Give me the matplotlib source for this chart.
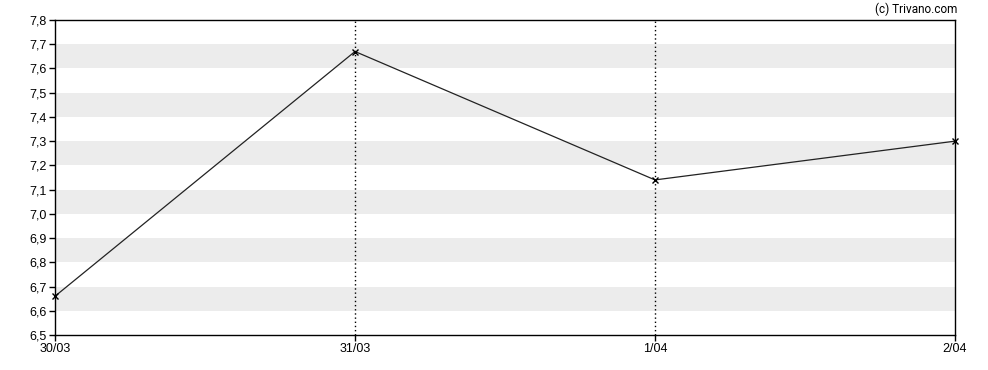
import matplotlib
matplotlib.use('Agg')
import matplotlib.pyplot as plt
import numpy as np

# data
dates = ['30/03', '31/03', '1/04', '2/04']
prices = [6.66, 7.67, 7.14, 7.30]
yticks = np.round(np.arange(6.5, 7.81, 0.1), 1)

plt.rcParams['font.family'] = ['Liberation Sans', 'DejaVu Sans']

fig = plt.figure(figsize=(9.88, 3.70), dpi=100)
ax = fig.add_axes([55/988, 35/370, 900/988, 315/370])

x = np.arange(len(dates))

# alternating grey bands
for lo in np.arange(6.6, 7.7, 0.2):
    ax.axhspan(lo, lo + 0.1, color='#ececec', lw=0, zorder=0)

# dotted verticals at inner dates
for xi in x[1:-1]:
    ax.axvline(xi, color='black', ls=(0, (1, 2)), lw=1, zorder=1)

ax.plot(x, prices, color='#222222', lw=0.9, marker='x', ms=4.5, mew=1.0,
        mec='black', zorder=3, clip_on=False)

ax.set_xlim(0, len(dates) - 1)
ax.set_ylim(6.5, 7.8)
ax.set_xticks(x)
ax.set_xticklabels(dates)
ax.set_yticks(yticks)
ax.set_yticklabels([f'{v:.1f}'.replace('.', ',') for v in yticks])
ax.tick_params(labelsize=9, length=4, width=1, color='black', pad=2)

for s in ax.spines.values():
    s.set_linewidth(1)
    s.set_color('black')

fig.text(957/988, 1 - 9/370, '(c) Trivano.com', ha='right', va='center',
         fontsize=8.5, family='Roboto')

fig.savefig('out.png', dpi=100)
